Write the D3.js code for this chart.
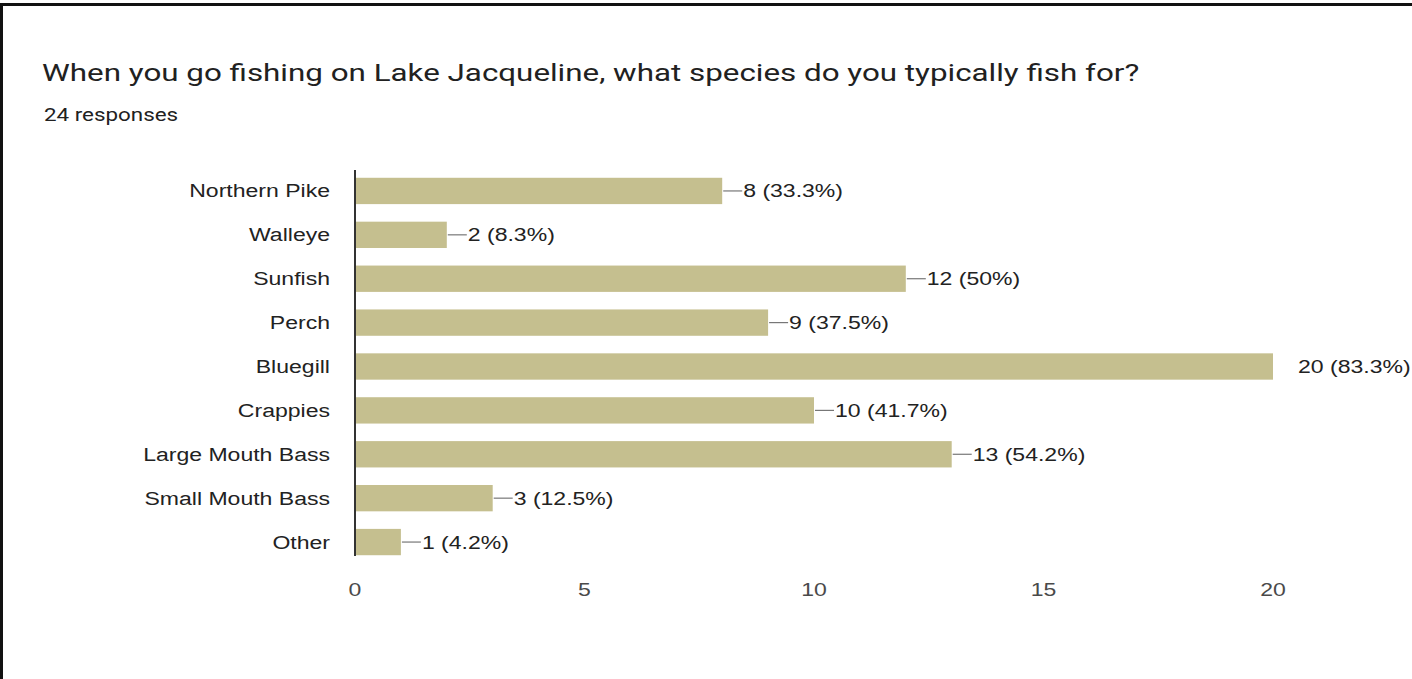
<!DOCTYPE html>
<html>
<head>
<meta charset="utf-8">
<script src="https://cdn.jsdelivr.net/npm/d3@7/dist/d3.min.js"></script>
<style>
  html, body { margin: 0; padding: 0; background: #fff; }
  svg { display: block; }
</style>
</head>
<body>
<script>
// Survey results: species fished for on Lake Jacqueline
const categories = ["Northern Pike", "Walleye", "Sunfish", "Perch", "Bluegill",
                    "Crappies", "Large Mouth Bass", "Small Mouth Bass", "Other"];
const counts = [8, 2, 12, 9, 20, 10, 13, 3, 1];
const percents = ["33.3%", "8.3%", "50%", "37.5%", "83.3%", "41.7%", "54.2%", "12.5%", "4.2%"];
const tickValues = [0, 5, 10, 15, 20];
const titleText = "When you go fishing on Lake Jacqueline, what species do you typically fish for?";
const subtitleText = "24 responses";

const W = 1412, H = 679;

const svg = d3.select("body").append("svg")
  .attr("width", W).attr("height", H);

svg.append("rect").attr("width", W).attr("height", H).attr("fill", "#fff");

// frame (left and top edges)
svg.append("line").attr("x1", 1.5).attr("x2", 1.5).attr("y1", 3).attr("y2", H)
  .attr("stroke", "#111").attr("stroke-width", 3);
svg.append("line").attr("x1", 0).attr("x2", W).attr("y1", 4.5).attr("y2", 4.5)
  .attr("stroke", "#111").attr("stroke-width", 3);

// text drawn with a horizontal stretch factor sx
function stretchedText(g, px, py, txt, sx, anchor) {
  return g.append("text")
    .attr("transform", `translate(${px},${py}) scale(${sx},1)`)
    .attr("text-anchor", anchor || "start")
    .text(txt);
}

// heading
stretchedText(svg, 42, 81, titleText, 1.28)
  .attr("font-family", "Roboto, Arial, sans-serif")
  .attr("font-size", 24.5).attr("fill", "#212121");
stretchedText(svg, 44, 121, subtitleText, 1.28)
  .attr("font-family", "Roboto, Arial, sans-serif")
  .attr("font-size", 17.5).attr("fill", "#212121");

const x = d3.scaleLinear().domain([0, 20]).range([355, 1273]);
const y = d3.scaleBand().domain(categories).range([169, 564]).paddingInner(0.4).paddingOuter(0.2);

const chart = svg.append("g")
  .attr("font-family", "'Liberation Sans', Arial, sans-serif");

const SX = 1.28;

// bars
chart.selectAll("rect.bar").data(categories).join("rect")
  .attr("class", "bar")
  .attr("x", x(0))
  .attr("y", d => y(d))
  .attr("width", (d, i) => x(counts[i]) - x(0))
  .attr("height", y.bandwidth())
  .attr("fill", "#c5bf8f");

// leader lines and value labels
categories.forEach((c, i) => {
  const cy = y(c) + y.bandwidth() / 2;
  const xe = x(counts[i]);
  if (i !== 4) {
    chart.append("line")
      .attr("x1", xe + 1).attr("x2", xe + 20).attr("y1", cy).attr("y2", cy)
      .attr("stroke", "#777").attr("stroke-width", 1.2);
  }
  stretchedText(chart, xe + (i === 4 ? 25 : 21), cy + 6.5, `${counts[i]} (${percents[i]})`, SX)
    .attr("font-size", 18).attr("fill", "#222");
});

// category labels
categories.forEach(c => {
  stretchedText(chart, 330, y(c) + y.bandwidth() / 2 + 6.5, c, SX, "end")
    .attr("font-size", 18).attr("fill", "#222");
});

// baseline axis
chart.append("line")
  .attr("x1", x(0)).attr("x2", x(0)).attr("y1", 170).attr("y2", 556)
  .attr("stroke", "#333").attr("stroke-width", 2);

// x tick labels
tickValues.forEach(t => {
  stretchedText(chart, x(t), 596, String(t), SX, "middle")
    .attr("font-size", 18).attr("fill", "#4a4a4a");
});
</script>
</body>
</html>
